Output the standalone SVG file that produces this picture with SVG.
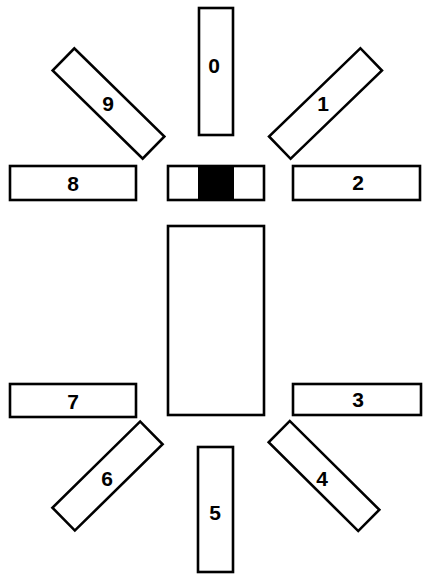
<svg xmlns="http://www.w3.org/2000/svg" width="424" height="574" viewBox="0 0 424 574">
<style>
.b{fill:#fff;stroke:#000;stroke-width:2.6}
.t{font-family:"Liberation Sans",Arial,sans-serif;font-size:21px;font-weight:bold;text-anchor:middle;dominant-baseline:central;fill:#000}
</style>
<rect width="424" height="574" fill="#fff"/>
<g id="connectors"></g>
<g id="n0"><rect class="b" x="199" y="8" width="34" height="127"/><text class="t" x="214" y="65">0</text></g>
<g id="n1"><rect class="b" x="262" y="88" width="127" height="31" transform="rotate(-44 325.5 103.5)"/><text class="t" x="323" y="103">1</text></g>
<g id="n2"><rect class="b" x="293" y="166" width="127" height="34"/><text class="t" x="358" y="182">2</text></g>
<g id="n3"><rect class="b" x="293" y="384" width="128" height="31"/><text class="t" x="358" y="399">3</text></g>
<g id="n4"><rect class="b" x="261" y="461" width="126" height="30" transform="rotate(44.7 324 476)"/><text class="t" x="322" y="478">4</text></g>
<g id="n5"><rect class="b" x="198" y="447" width="35" height="125"/><text class="t" x="215" y="512">5</text></g>
<g id="n6"><rect class="b" x="46" y="460" width="123" height="32" transform="rotate(-44.5 107.5 476)"/><text class="t" x="107" y="478">6</text></g>
<g id="n7"><rect class="b" x="10" y="384" width="126" height="33"/><text class="t" x="73" y="401">7</text></g>
<g id="n8"><rect class="b" x="10" y="166" width="126" height="34"/><text class="t" x="73" y="183">8</text></g>
<g id="n9"><rect class="b" x="45.5" y="88" width="126" height="31" transform="rotate(44.4 108.5 103.5)"/><text class="t" x="108" y="103">9</text></g>
<g id="center"><rect class="b" x="168" y="166" width="96" height="34"/><rect x="198" y="166" width="36" height="34" fill="#000"/></g>
<g id="body"><rect class="b" x="168" y="226" width="96" height="189"/></g>
</svg>
